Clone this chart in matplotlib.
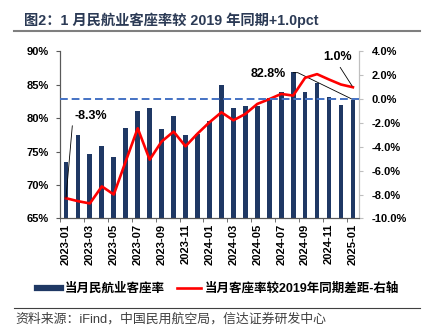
import matplotlib
matplotlib.use("Agg")
import matplotlib.pyplot as plt
import numpy as np
from matplotlib.lines import Line2D

plt.rcParams['font.family'] = ['Liberation Sans', 'Noto Sans CJK SC', 'DejaVu Sans']
plt.rcParams['axes.unicode_minus'] = False

# 月份
months = ['2023-01', '2023-02', '2023-03', '2023-04', '2023-05', '2023-06',
          '2023-07', '2023-08', '2023-09', '2023-10', '2023-11', '2023-12',
          '2024-01', '2024-02', '2024-03', '2024-04', '2024-05', '2024-06',
          '2024-07', '2024-08', '2024-09', '2024-10', '2024-11', '2024-12',
          '2025-01']
# 当月民航业客座率 (%)
load_factor = [73.45, 77.55, 74.65, 75.9, 74.25, 78.55, 81.15, 81.5, 78.45,
               80.4, 77.5, 77.7, 79.65, 85.0, 81.6, 81.9, 81.9, 83.1, 84.0,
               86.9, 83.9, 85.25, 83.15, 82.0, 82.8]
# 较2019年同期差距 (pct)
gap_2019 = [-8.3, -8.55, -8.74, -7.31, -7.99, -5.2, -2.44, -5.07, -3.55,
            -2.72, -3.95, -2.89, -1.94, -1.1, -1.77, -1.24, -0.4, 0.0, 0.44,
            0.3, 1.79, 2.1, 1.65, 1.23, 1.0]

navy = '#1f3864'
red = '#ff0000'

fig = plt.figure(figsize=(4.27, 3.31), dpi=100)
ax = fig.add_axes([0.1405, 0.340, 0.700, 0.5045])
ax2 = ax.twinx()

x = np.arange(len(months))
ax.bar(x, load_factor, width=0.4, color=navy, zorder=2)
ax.set_ylim(65, 90)
ax.set_yticks(np.arange(65, 91, 5))
ax.set_yticklabels([f'{v}%' for v in range(65, 91, 5)])
ax.set_xlim(-0.5, len(months) - 0.5)

# 只标注单数月
ax.set_xticks(x[::2])
ax.set_xticklabels(months[::2], rotation=90)
ax.set_xticks(np.arange(-0.5, len(months) - 1, 2), minor=True)
ax.tick_params(axis='x', which='major', length=0, pad=4, labelsize=8)
ax.tick_params(axis='x', which='minor', length=3, direction='out', color='#595959')
ax.tick_params(axis='y', length=3, direction='out', pad=5, labelsize=8, color='#595959')
for lab in ax.get_xticklabels() + ax.get_yticklabels():
    lab.set_fontweight('bold')

ax2.plot(x, gap_2019, color=red, lw=1.9, zorder=3)
ax2.axhline(0, color='#4472c4', lw=1.4, ls=(0, (4, 2)), zorder=4)
ax2.set_ylim(-10, 4)
ax2.set_yticks(np.arange(-10, 5, 2))
ax2.set_yticklabels([f'{v:.1f}%' for v in np.arange(-10, 5, 2)])
ax2.tick_params(axis='y', length=3, direction='out', pad=6, labelsize=8, color='#bfbfbf')
for lab in ax2.get_yticklabels():
    lab.set_fontweight('bold')

for a in (ax, ax2):
    a.spines['top'].set_visible(False)
    a.spines['left'].set_color('#595959')
    a.spines['bottom'].set_color('#595959')
    a.spines['right'].set_color('#bfbfbf')
    a.set_zorder(1)
ax2.set_zorder(2)
ax2.patch.set_visible(False)
ax.patch.set_visible(False)

# 数据标注
ax2.annotate(f'{gap_2019[0]:.1f}%', xy=(x[0], gap_2019[0]), xytext=(6.5, 59.5),
             textcoords='offset points', ha='left', va='center',
             fontsize=9, fontweight='bold',
             arrowprops=dict(arrowstyle='-', color='black', lw=0.6,
                             connectionstyle='angle,angleA=180,angleB=85,rad=0',
                             relpos=(0, 0.5), shrinkA=1, shrinkB=0))
ax.annotate(f'{load_factor[-1]:.1f}%', xy=(x[-1], load_factor[-1]), xytext=(-48, 18.5),
            textcoords='offset points', ha='right', va='center',
            fontsize=9, fontweight='bold',
            arrowprops=dict(arrowstyle='-', color='black', lw=0.6,
                            connectionstyle='angle,angleA=0,angleB=154,rad=0',
                            relpos=(1, 0.6), shrinkA=3, shrinkB=0))
ax2.annotate(f'{gap_2019[-1]:.1f}%', xy=(x[-1], gap_2019[-1]), xytext=(-11, 21.5),
             textcoords='offset points', ha='center', va='center',
             fontsize=9, fontweight='bold',
             arrowprops=dict(arrowstyle='-', color='black', lw=0.6,
                             relpos=(0.5, 0), shrinkA=1, shrinkB=1))

handles = [Line2D([], [], color=navy, lw=4.5),
           Line2D([], [], color=red, lw=1.9)]
fig.legend(handles, ['当月民航业客座率', '当月客座率较2019年同期差距-右轴'],
           loc='center', bbox_to_anchor=(0.51, 0.127), ncol=2, frameon=False,
           handlelength=1.9, handletextpad=0.3, columnspacing=1.0,
           prop={'size': 9, 'weight': 'bold'})

# 标题与来源
fig.text(0.056, 0.940, '图2：1 月民航业客座率较 2019 年同期+1.0pct',
         fontsize=10.3, fontweight='bold', color='#2b3a55', va='center', ha='left')
fig.add_artist(Line2D([0.033, 0.984], [0.906, 0.906], color='#7f7f7f', lw=1.5))
fig.add_artist(Line2D([0.033, 0.984], [0.0695, 0.0695], color='#404040', lw=0.8))
fig.text(0.037, 0.036, '资料来源：iFind，中国民用航空局，信达证券研发中心',
         fontsize=9.3, color='#404040', va='center', ha='left')

fig.savefig('out.png', dpi=100)
